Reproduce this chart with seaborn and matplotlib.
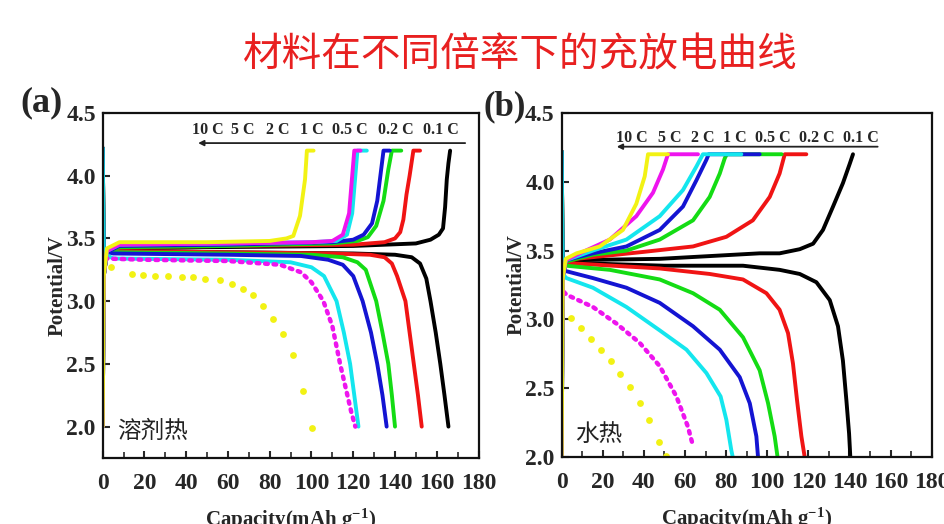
import matplotlib
matplotlib.use("Agg")
import matplotlib.pyplot as plt
from matplotlib.ticker import MultipleLocator
import seaborn as sns

# rates, high rate drawn last
rates = ["0.1 C", "0.2 C", "0.5 C", "1 C", "2 C", "5 C", "10 C"]
rate_colors = ["#000000", "#f01414", "#14dc14", "#1414d2", "#14e6ee", "#ee14ee", "#f2f214"]

# ---- panel (a) 溶剂热: charge curves (capacity mAh/g, potential V)
a_chg_01 = [(0, 2.0), (0.5, 3.2), (2, 3.38), (8, 3.42), (50, 3.43), (120, 3.44), (150, 3.46),
            (157, 3.49), (161, 3.53), (163, 3.58), (164, 3.75), (164.8, 3.97), (165.6, 4.1), (166.4, 4.2)]
a_chg_02 = [(0, 2.0), (0.5, 3.2), (2, 3.39), (8, 3.43), (60, 3.44), (120, 3.45), (135, 3.47), (140, 3.5),
            (142.5, 3.55), (144, 3.65), (145.5, 3.85), (147, 4.0), (148.8, 4.2), (152, 4.2)]
a_chg_05 = [(0, 2.0), (0.5, 3.2), (2, 3.39), (8, 3.43), (60, 3.44), (110, 3.46), (122, 3.48), (127, 3.51),
            (131, 3.6), (134.5, 3.8), (136.8, 4.05), (138.5, 4.2), (143, 4.2)]
a_chg_1 = [(0, 2.0), (0.5, 3.2), (2, 3.39), (8, 3.44), (60, 3.45), (110, 3.47), (120, 3.49), (125, 3.53),
           (129, 3.62), (131.5, 3.8), (133, 4.0), (134.5, 4.2), (137.5, 4.2)]
a_chg_2 = [(0, 2.0), (0.5, 3.2), (2, 3.4), (8, 3.45), (60, 3.46), (100, 3.47), (112, 3.48), (117, 3.53),
           (119.5, 3.7), (121, 4.0), (122, 4.2), (126.5, 4.2)]
a_chg_5 = [(0, 2.0), (0.5, 3.2), (2, 3.4), (8, 3.45), (60, 3.46), (100, 3.47), (110, 3.48), (115, 3.53),
           (118, 3.7), (119.5, 4.0), (120.5, 4.2), (123.5, 4.2)]
a_chg_10 = [(0, 2.0), (0.5, 3.2), (2, 3.42), (8, 3.47), (50, 3.47), (80, 3.48), (88, 3.5), (91.3, 3.52),
            (94.5, 3.68), (96.9, 3.97), (97.8, 4.2), (101, 4.2)]

# ---- panel (a): discharge curves
a_dis_01 = [(0, 4.22), (0.5, 3.42), (5, 3.4), (60, 3.39), (120, 3.38), (140, 3.37), (148, 3.35), (152, 3.3),
            (155, 3.18), (157, 3.0), (159.5, 2.75), (161.7, 2.5), (163.7, 2.25), (165.6, 2.0)]
a_dis_02 = [(0, 4.22), (0.5, 3.42), (5, 3.4), (60, 3.39), (110, 3.38), (128, 3.37), (135, 3.35), (138.5, 3.3),
            (141, 3.2), (145, 3.0), (147, 2.75), (149, 2.5), (151, 2.25), (152.8, 2.0)]
a_dis_05 = [(0, 4.22), (0.5, 3.41), (5, 3.39), (60, 3.38), (100, 3.37), (115, 3.35), (122, 3.31), (126, 3.25),
            (131, 3.0), (134, 2.75), (136.8, 2.5), (138.5, 2.25), (140, 2.0)]
a_dis_1 = [(0, 4.22), (0.5, 3.4), (5, 3.38), (60, 3.37), (95, 3.36), (108, 3.33), (115, 3.29), (120, 3.2),
           (124.5, 3.0), (128.5, 2.75), (131.5, 2.5), (134, 2.25), (136, 2.0)]
a_dis_2 = [(0, 4.22), (0.5, 3.38), (5, 3.34), (60, 3.33), (90, 3.31), (100, 3.27), (106, 3.2), (112, 3.0),
           (115.5, 2.75), (118.5, 2.5), (120.5, 2.25), (122.5, 2.0)]
a_dis_5 = [(1, 3.34), (20, 3.33), (60, 3.32), (85, 3.29), (95, 3.23), (100, 3.15), (105.7, 3.0), (110, 2.8),
           (113.7, 2.5), (116.5, 2.3), (119, 2.12), (121, 2.0)]
a_dis_10 = [(4, 3.27), (13.9, 3.22), (19.5, 3.21), (25.1, 3.2), (31.4, 3.2), (37.8, 3.19), (43.4, 3.19),
            (49, 3.18), (56.2, 3.17), (61.8, 3.14), (67.4, 3.1), (72.1, 3.05), (76.9, 2.96), (81.7, 2.86),
            (86.5, 2.74), (91.3, 2.57), (96.1, 2.28), (100.1, 1.99)]

# ---- panel (b) 水热: charge curves
b_chg_01 = [(0, 2.0), (0.5, 3.3), (2, 3.42), (3.9, 3.43), (47.7, 3.44), (96.3, 3.48), (106, 3.48),
            (115.8, 3.51), (122.3, 3.55), (127.1, 3.65), (132, 3.82), (136.8, 3.99), (140.1, 4.13),
            (141.7, 4.2)]
b_chg_02 = [(0, 2.0), (0.5, 3.3), (2, 3.42), (7.2, 3.44), (39.5, 3.49), (63.9, 3.53), (80.1, 3.6),
            (93, 3.72), (101.2, 3.89), (106, 4.06), (108.5, 4.2), (119, 4.2)]
b_chg_05 = [(0, 2.0), (0.5, 3.3), (2, 3.42), (15.2, 3.47), (31.5, 3.5), (47.7, 3.58), (63.9, 3.72),
            (72, 3.89), (76.9, 4.06), (79.3, 4.17), (80.3, 4.2), (107, 4.2)]
b_chg_1 = [(0, 2.0), (0.5, 3.3), (2, 3.43), (15.2, 3.48), (31.5, 3.53), (47.7, 3.65), (59, 3.82),
           (65.5, 4.01), (70.4, 4.16), (71.5, 4.2), (96.3, 4.2)]
b_chg_2 = [(0, 2.0), (0.5, 3.3), (2, 3.43), (15.2, 3.5), (31.5, 3.58), (47.7, 3.75), (59, 3.94),
           (65.5, 4.11), (68.7, 4.2), (87.4, 4.2)]
b_chg_5 = [(0, 2.0), (0.5, 3.3), (2, 3.43), (8.8, 3.48), (23.4, 3.58), (36.3, 3.75), (44.4, 3.92),
           (49.3, 4.09), (51.7, 4.2), (66.3, 4.2)]
b_chg_10 = [(0, 2.0), (0.5, 3.3), (2, 3.44), (7.2, 3.48), (18.5, 3.53), (29.8, 3.65), (36.3, 3.84),
            (40.4, 4.04), (42, 4.2), (51.7, 4.2)]

# ---- panel (b): discharge curves
b_dis_01 = [(0, 4.22), (0.5, 3.42), (5, 3.41), (50, 3.39), (88.2, 3.39), (106, 3.36), (115.8, 3.33),
            (123.9, 3.27), (130.4, 3.14), (134.4, 2.95), (136.8, 2.7), (138.5, 2.41), (139.8, 2.17),
            (140.4, 2.0)]
b_dis_02 = [(0, 4.22), (0.5, 3.41), (2.3, 3.41), (47.7, 3.37), (72, 3.33), (88.2, 3.29), (99.6, 3.19),
            (106, 3.07), (110.1, 2.9), (112.5, 2.68), (114.5, 2.41), (116.6, 2.15), (118.2, 2.0)]
b_dis_05 = [(0, 4.22), (0.5, 3.4), (2.3, 3.39), (23.4, 3.36), (47.7, 3.29), (63.9, 3.19), (76.9, 3.07),
            (88.2, 2.87), (96.3, 2.63), (100.4, 2.39), (103.6, 2.15), (105, 2.0)]
b_dis_1 = [(0, 4.22), (0.5, 3.36), (2.3, 3.35), (15.2, 3.3), (31.5, 3.23), (47.7, 3.12), (63.9, 2.95),
           (76.9, 2.78), (86.6, 2.58), (91.5, 2.39), (94.7, 2.15), (95.5, 2.0)]
b_dis_2 = [(0, 4.22), (0.5, 3.33), (2.3, 3.3), (15.2, 3.23), (31.5, 3.09), (47.7, 2.92), (60.7, 2.78),
           (70.4, 2.61), (77.3, 2.44), (80.1, 2.27), (82.5, 2.05), (83.2, 2.0)]
b_dis_5 = [(1, 3.2), (2.3, 3.18), (15.2, 3.09), (26.6, 2.97), (37.9, 2.83), (47.7, 2.66), (55.8, 2.44),
           (61.4, 2.22), (63.9, 2.08)]
b_dis_10 = [(4.7, 3.01), (9.6, 2.94), (14.4, 2.86), (19.3, 2.78), (24.2, 2.7), (28.2, 2.6), (33.4, 2.51),
            (37.9, 2.39), (42.5, 2.27), (47.3, 2.11), (50.9, 2.01)]

a_charge = [a_chg_01, a_chg_02, a_chg_05, a_chg_1, a_chg_2, a_chg_5, a_chg_10]
a_discharge = [a_dis_01, a_dis_02, a_dis_05, a_dis_1, a_dis_2, a_dis_5, a_dis_10]
b_charge = [b_chg_01, b_chg_02, b_chg_05, b_chg_1, b_chg_2, b_chg_5, b_chg_10]
b_discharge = [b_dis_01, b_dis_02, b_dis_05, b_dis_1, b_dis_2, b_dis_5, b_dis_10]

arrow_labels = ["10 C", "5 C", "2 C", "1 C", "0.5 C", "0.2 C", "0.1 C"]

sns.set_style("ticks")
plt.rcParams["font.family"] = ["Liberation Serif", "Noto Sans CJK SC", "DejaVu Sans"]
plt.rcParams["font.weight"] = "bold"
plt.rcParams["mathtext.fontset"] = "custom"
plt.rcParams["mathtext.rm"] = "Liberation Serif:bold"
plt.rcParams["mathtext.it"] = "Liberation Serif:bold"
plt.rcParams["mathtext.bf"] = "Liberation Serif:bold"

fig = plt.figure(figsize=(9.44, 5.24), dpi=100)
ax_a = fig.add_axes([0.1088, 0.126, 0.3981, 0.6584])
ax_b = fig.add_axes([0.595, 0.1279, 0.392, 0.6565])


def draw_panel(ax, charge, discharge, ylow, corner, corner_xy, lab_x, lab_y, arr_x, arr_y):
    for i, (chg, dis) in enumerate(zip(charge, discharge)):
        col = rate_colors[i]
        sns.lineplot(x=[p[0] for p in chg], y=[p[1] for p in chg], sort=False, estimator=None,
                     color=col, lw=2.8, ax=ax)
        xs = [p[0] for p in dis]
        ys = [p[1] for p in dis]
        if rates[i] == "10 C":
            sns.scatterplot(x=xs, y=ys, color=col, s=24, linewidth=0, ax=ax)
        elif rates[i] == "5 C":
            ax.plot(xs, ys, color=col, lw=3.2, linestyle=(0, (0.6, 1.3)), dash_capstyle="round")
        else:
            sns.lineplot(x=xs, y=ys, sort=False, estimator=None, color=col, lw=2.8, ax=ax)

    ax.set_xlim(0, 180)
    ax.set_ylim(ylow, 4.5)
    ax.xaxis.set_major_locator(MultipleLocator(20))
    ax.xaxis.set_minor_locator(MultipleLocator(10))
    ax.set_yticks([2.0, 2.5, 3.0, 3.5, 4.0, 4.5])
    ax.tick_params(axis="both", which="major", direction="in", length=5, width=1.5,
                   labelsize=17, pad=5, top=False, right=False)
    ax.tick_params(axis="x", which="major", pad=11)
    ax.tick_params(axis="x", which="minor", direction="in", length=4, width=1.2, top=False)
    for s in ax.spines.values():
        s.set_linewidth(1.6)
        s.set_color("#111111")
    ax.set_xlabel("Capacity(mAh g$^{-1}$)", fontsize=15, fontweight="bold", labelpad=9)
    ax.set_ylabel("Potential/V", fontsize=15, fontweight="bold", labelpad=-1)

    for lab, x in zip(arrow_labels, lab_x):
        ax.text(x, lab_y, lab, fontsize=11.5, fontweight="bold", ha="center", va="center")
    ax.annotate("", xy=(arr_x[0], arr_y), xytext=(arr_x[1], arr_y),
                arrowprops=dict(arrowstyle="-|>", color="#222222", lw=1.3, mutation_scale=8,
                                shrinkA=0, shrinkB=0))
    ax.text(corner_xy[0], corner_xy[1], corner, fontsize=17, family=["Noto Sans CJK SC"],
            fontweight="normal", color="#222222", ha="left", va="center")


draw_panel(ax_a, a_charge, a_discharge, 1.75, "溶剂热", (6.9, 1.96),
           [50.4, 67.2, 84.0, 100.3, 118.5, 140.5, 162.1], 4.365, (45.7, 173.6), 4.26)
draw_panel(ax_b, b_charge, b_discharge, 2.0, "水热", (6.3, 2.167),
           [34.0, 52.5, 68.6, 84.2, 102.6, 124.0, 145.5], 4.318, (26.8, 153.7), 4.255)

fig.text(0.044, 0.803, "(a)", fontsize=26, fontweight="bold", ha="center", va="center")
fig.text(0.535, 0.796, "(b)", fontsize=25, fontweight="bold", ha="center", va="center")
fig.text(0.5514, 0.895, "材料在不同倍率下的充放电曲线", fontsize=28.5, color="#e82020",
         family=["Noto Sans CJK SC"], fontweight="medium", ha="center", va="center")

fig.savefig("out.png", dpi=100)
